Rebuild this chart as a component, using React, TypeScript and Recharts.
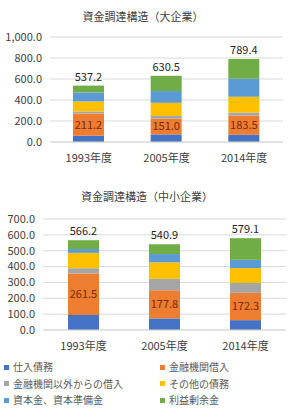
import { Bar, BarChart, CartesianGrid, LabelList, XAxis, YAxis } from 'recharts';

const years = ['1993年度', '2005年度', '2014年度'];
const seriesNames = [
  '仕入債務',
  '金融機関借入',
  '金融機関以外からの借入',
  'その他の債務',
  '資本金、資本準備金',
  '利益剰余金',
];
const colors = ['#4472C4', '#ED7D31', '#A5A5A5', '#FFC000', '#5B9BD5', '#70AD47'];

// 大企業
const largeShiire = [60, 72, 68];
const largeKinyu = [211.2, 151.0, 183.5];
const largeIgai = [20, 25, 30];
const largeSonota = [95, 125, 150];
const largeShihon = [85, 112, 172];
const largeRieki = [66, 145.5, 185.9];
const largeTotals = [537.2, 630.5, 789.4];
const largeTicks = [0, 200, 400, 600, 800, 1000];

// 中小企業
const smallShiire = [95, 73, 62];
const smallKinyu = [261.5, 177.8, 172.3];
const smallIgai = [33, 72, 62];
const smallSonota = [97, 104, 94];
const smallShihon = [24, 52, 52];
const smallRieki = [55.7, 62.1, 136.8];
const smallTotals = [566.2, 540.9, 579.1];
const smallTicks = [0, 100, 200, 300, 400, 500, 600, 700];

const font = '"Noto Sans CJK JP", "Noto Sans", sans-serif';

function buildRows(parts: number[][], totals: number[]) {
  return years.map((year, i) => {
    const row: Record<string, string | number> = { year, total: totals[i] };
    parts.forEach((values, k) => {
      row['s' + k] = values[i];
    });
    return row;
  });
}

const largeRows = buildRows(
  [largeShiire, largeKinyu, largeIgai, largeSonota, largeShihon, largeRieki],
  largeTotals,
);
const smallRows = buildRows(
  [smallShiire, smallKinyu, smallIgai, smallSonota, smallShihon, smallRieki],
  smallTotals,
);

const fmt = (v: number) =>
  v.toLocaleString('en-US', { minimumFractionDigits: 1, maximumFractionDigits: 1 });

function Stack({
  rows,
  ticks,
  width,
  height,
  margin,
  yWidth,
}: {
  rows: Record<string, string | number>[];
  ticks: number[];
  width: number;
  height: number;
  margin: { top: number; right: number; left: number; bottom: number };
  yWidth: number;
}) {
  return (
    <BarChart width={width} height={height} data={rows} margin={margin} barSize={31}>
      <CartesianGrid vertical={false} stroke="#d9d9d9" />
      <XAxis
        dataKey="year"
        axisLine={{ stroke: '#d9d9d9' }}
        tickLine={false}
        tickMargin={6}
        height={20}
        tick={{ fontSize: 11, fill: '#404040', fontFamily: font }}
      />
      <YAxis
        width={yWidth}
        domain={[0, ticks[ticks.length - 1]]}
        ticks={ticks}
        tickFormatter={fmt}
        axisLine={false}
        tickLine={false}
        interval={0}
        tick={{ fontSize: 11, fill: '#404040', fontFamily: font }}
      />
      {seriesNames.map((name, k) => (
        <Bar
          key={name}
          dataKey={'s' + k}
          name={name}
          stackId="a"
          fill={colors[k]}
          isAnimationActive={false}
        >
          {k === 1 && (
            <LabelList
              dataKey={'s1'}
              position="center"
              formatter={(v: number) => fmt(v)}
              style={{ fontSize: 11, fill: '#7B2A0A', fontFamily: font }}
            />
          )}
          {k === seriesNames.length - 1 && (
            <LabelList
              dataKey="total"
              position="top"
              offset={5}
              formatter={(v: number) => fmt(v)}
              style={{ fontSize: 11, fill: '#262626', fontFamily: font }}
            />
          )}
        </Bar>
      ))}
    </BarChart>
  );
}

const titleStyle: React.CSSProperties = {
  position: 'absolute',
  fontSize: 11,
  color: '#404040',
  fontFamily: font,
  whiteSpace: 'nowrap',
  transform: 'translateX(-50%)',
  lineHeight: '14px',
};

export default function App() {
  return (
    <div
      style={{
        position: 'absolute',
        left: 0,
        top: 0,
        width: 300,
        height: 414,
        background: '#fff',
        overflow: 'hidden',
        fontFamily: font,
      }}
    >
      <div style={{ ...titleStyle, left: 143, top: 9 }}>資金調達構造（大企業）</div>
      <div style={{ position: 'absolute', left: 0, top: 0 }}>
        <Stack
          rows={largeRows}
          ticks={largeTicks}
          width={300}
          height={165}
          margin={{ top: 37, right: 17, left: 0, bottom: 3 }}
          yWidth={50}
        />
      </div>

      <div style={{ ...titleStyle, left: 147, top: 189 }}>資金調達構造（中小企業）</div>
      <div style={{ position: 'absolute', left: 0, top: 180 }}>
        <Stack
          rows={smallRows}
          ticks={smallTicks}
          width={300}
          height={173}
          margin={{ top: 39, right: 14, left: 0, bottom: 3 }}
          yWidth={43}
        />
      </div>

      {seriesNames.map((name, k) => {
        const col = k % 2;
        const row = Math.floor(k / 2);
        return (
          <div
            key={name}
            style={{
              position: 'absolute',
              left: col === 0 ? 4 : 160,
              top: 360 + row * 16.5,
              display: 'flex',
              alignItems: 'center',
              fontSize: 10,
              color: '#595959',
              whiteSpace: 'nowrap',
              lineHeight: '14px',
            }}
          >
            <span
              style={{
                display: 'inline-block',
                width: 5,
                height: 5,
                background: colors[k],
                marginRight: 4,
              }}
            />
            {name}
          </div>
        );
      })}
    </div>
  );
}
